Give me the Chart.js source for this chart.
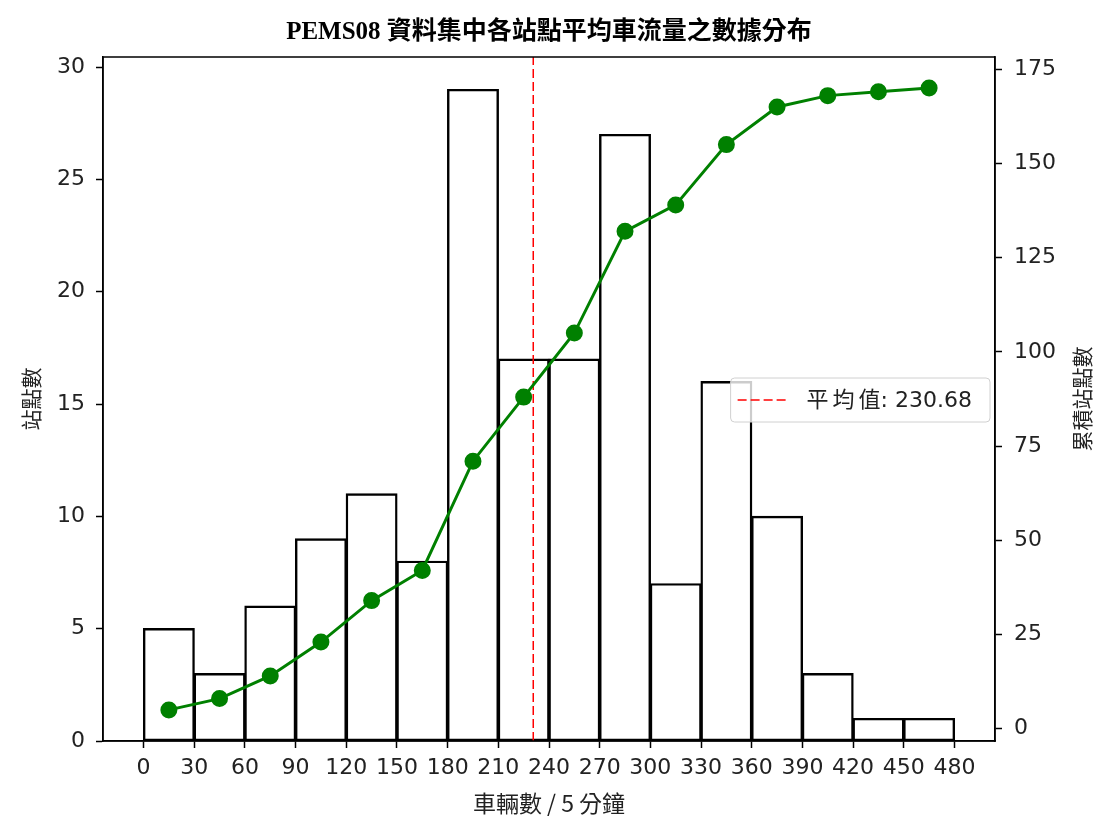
<!DOCTYPE html>
<html>
<head>
<meta charset="utf-8">
<script src="https://cdn.jsdelivr.net/npm/chart.js@4"></script>
<style>
  html, body { margin: 0; padding: 0; background: #fff; }
  #wrap { width: 1097px; height: 821px; }
</style>
</head>
<body>
<div id="wrap"><canvas id="myChart" width="1097" height="821"></canvas></div>
<script>
// histogram data
const binEdges = [0, 30, 60, 90, 120, 150, 180, 210, 240, 270, 300, 330, 360, 390, 420, 450, 480];
const stationCounts = [5, 3, 6, 9, 11, 8, 29, 17, 17, 27, 7, 16, 10, 3, 1, 1];
const cumulativeCounts = [5, 8, 14, 23, 34, 42, 71, 88, 105, 132, 139, 155, 165, 168, 169, 170];
const meanValue = 230.68;

const xTicks = [0, 30, 60, 90, 120, 150, 180, 210, 240, 270, 300, 330, 360, 390, 420, 450, 480];
const yTicks = [0, 5, 10, 15, 20, 25, 30];
const y1Ticks = [0, 25, 50, 75, 100, 125, 150, 175];

const titleText = 'PEMS08 資料集中各站點平均車流量之數據分布';
const xTitle = '車輛數 / 5 分鐘';
const yTitle = '站點數';
const y1Title = '累積站點數';
const legendLabel = '平均值';
const legendValue = ': ' + meanValue.toFixed(2);

const binCenters = binEdges.slice(0, -1).map((e, i) => (e + binEdges[i + 1]) / 2);
const barData = binCenters.map((c, i) => ({ x: c, y: stationCounts[i] }));
const cumData = binCenters.map((c, i) => ({ x: c, y: cumulativeCounts[i] }));

const sansFont = "'DejaVu Sans', 'Noto Sans CJK TC'";
const cjkFont = "'Noto Sans CJK TC'";
const titleFont = "'Liberation Serif', 'Noto Sans CJK TC'";

const fixTicks = (list) => (scale) => { scale.ticks = list.map((v) => ({ value: v })); };

// title, right axis label, frame and legend
const extras = {
  id: 'extras',
  afterDraw(chart) {
    const { ctx, chartArea: a } = chart;
    ctx.save();
    ctx.strokeStyle = '#000';
    ctx.lineWidth = 1.5;
    ctx.strokeRect(a.left, a.top, a.right - a.left, a.bottom - a.top);

    ctx.fillStyle = '#000';
    ctx.font = 'bold 25px ' + titleFont;
    ctx.textAlign = 'center';
    ctx.textBaseline = 'middle';
    ctx.fillText(titleText, (a.left + a.right) / 2, 33);

    ctx.fillStyle = '#222';
    ctx.font = '21px ' + cjkFont;
    ctx.translate(1082, (a.top + a.bottom) / 2);
    ctx.rotate(-Math.PI / 2);
    ctx.fillText(y1Title, 0, 0);
    ctx.restore();

    // legend box, center right
    ctx.save();
    ctx.font = '22px ' + sansFont;
    ctx.letterSpacing = '4px';
    const lw = ctx.measureText(legendLabel).width;
    ctx.letterSpacing = '0px';
    const vw = ctx.measureText(legendValue).width;
    const w = 76 + lw + vw + 14;
    const h = 44;
    const right = a.right - 5;
    const left = right - w;
    const top = (a.top + a.bottom) / 2 - h / 2 + 1;
    ctx.fillStyle = 'rgba(255,255,255,0.8)';
    ctx.strokeStyle = '#d0d0d0';
    ctx.lineWidth = 1;
    ctx.beginPath();
    ctx.roundRect(left, top, w, h, 4);
    ctx.fill();
    ctx.stroke();
    ctx.strokeStyle = 'red';
    ctx.lineWidth = 1.5;
    ctx.setLineDash([9, 4]);
    ctx.beginPath();
    ctx.moveTo(left + 7, top + h / 2);
    ctx.lineTo(left + 57, top + h / 2);
    ctx.stroke();
    ctx.setLineDash([]);
    ctx.fillStyle = '#222';
    ctx.textAlign = 'left';
    ctx.textBaseline = 'middle';
    ctx.letterSpacing = '4px';
    ctx.fillText(legendLabel, left + 76, top + h / 2 + 1);
    ctx.letterSpacing = '0px';
    ctx.fillText(legendValue, left + 76 + lw - 4, top + h / 2 + 1);
    ctx.restore();
  }
};

const ctx = document.getElementById('myChart');
// eslint-disable-next-line no-new
new Chart(ctx, {
  data: {
    datasets: [
      {
        type: 'bar',
        data: barData,
        xAxisID: 'x',
        yAxisID: 'y',
        backgroundColor: 'rgba(255,255,255,0)',
        borderColor: '#000',
        borderWidth: 1.2,
        borderSkipped: false,
        inflateAmount: 0.6,
        categoryPercentage: 1,
        barPercentage: 1,
        grouped: false,
        order: 3,
      },
      {
        type: 'line',
        data: [{ x: meanValue, y: 0 }, { x: meanValue, y: 40 }],
        xAxisID: 'x',
        yAxisID: 'y',
        borderColor: 'red',
        borderWidth: 1.5,
        borderDash: [9, 4],
        pointRadius: 0,
        clip: 0,
        order: 2,
      },
      {
        type: 'line',
        data: cumData,
        xAxisID: 'x',
        yAxisID: 'y1',
        borderColor: 'green',
        backgroundColor: 'green',
        borderWidth: 3,
        pointRadius: 7,
        pointBackgroundColor: 'green',
        pointBorderColor: 'green',
        tension: 0,
        order: 1,
      },
    ],
  },
  options: {
    responsive: false,
    animation: false,
    layout: { padding: { top: 57, left: 0, right: 0, bottom: 0 } },
    plugins: {
      legend: { display: false },
      tooltip: { enabled: false },
      title: { display: false },
    },
    scales: {
      x: {
        type: 'linear',
        position: 'bottom',
        offset: false,
        min: -24,
        max: 504,
        afterBuildTicks: fixTicks(xTicks),
        afterFit: (s) => { s.height = 80; },
        grid: { drawOnChartArea: false, offset: false, tickLength: 7, color: '#000', tickWidth: 1.5 },
        border: { color: '#000', width: 1.5 },
        ticks: { color: '#222', font: { family: sansFont, size: 22 }, padding: 7, maxRotation: 0, autoSkip: false },
        title: { display: true, text: xTitle, color: '#222', font: { family: cjkFont, size: 23 }, padding: { top: 0, bottom: 4 } },
      },
      y: {
        type: 'linear',
        position: 'left',
        min: 0,
        max: 30.45,
        afterBuildTicks: fixTicks(yTicks),
        afterFit: (s) => { s.width = 103; },
        grid: { drawOnChartArea: false, tickLength: 7, color: '#000', tickWidth: 1.5 },
        border: { color: '#000', width: 1.5 },
        ticks: { color: '#222', font: { family: sansFont, size: 22 }, padding: 11 },
        title: { display: true, text: yTitle, color: '#222', font: { family: cjkFont, size: 21 }, padding: { top: 18, bottom: 0 } },
      },
      y1: {
        type: 'linear',
        position: 'right',
        min: -3.25,
        max: 178.25,
        afterBuildTicks: fixTicks(y1Ticks),
        afterFit: (s) => { s.width = 102; },
        grid: { drawOnChartArea: false, tickLength: 7, color: '#000', tickWidth: 1.5 },
        border: { color: '#000', width: 1.5 },
        ticks: { color: '#222', font: { family: sansFont, size: 22 }, padding: 12 },
      },
    },
  },
  plugins: [extras],
});
</script>
</body>
</html>
